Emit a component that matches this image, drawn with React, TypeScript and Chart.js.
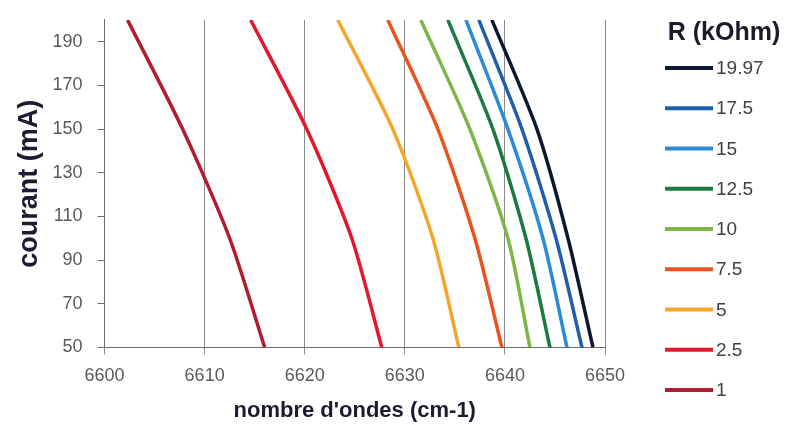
import React, { useEffect, useRef } from "react";
import { Chart, registerables } from "chart.js";

Chart.register(...registerables);

const currents = [50, 100, 150, 200];
const yTicks = [50, 70, 90, 110, 130, 150, 170, 190];
const xTicks = [6600, 6610, 6620, 6630, 6640, 6650];
const legendTitle = "R (kOhm)";

const seriesLabels = ["1", "2.5", "5", "7.5", "10", "12.5", "15", "17.5", "19.97"];
const r1 = [6616.0, 6612.5, 6607.8, 6602.3];
const r2_5 = [6627.7, 6624.7, 6620.2, 6614.6];
const r5 = [6635.4, 6632.8, 6628.8, 6623.3];
const r7_5 = [6639.7, 6637.0, 6633.3, 6628.3];
const r10 = [6642.5, 6640.3, 6636.5, 6631.6];
const r12_5 = [6644.5, 6642.1, 6638.8, 6634.3];
const r15 = [6646.2, 6643.8, 6640.3, 6636.1];
const r17_5 = [6647.7, 6645.1, 6641.7, 6637.4];
const r19_97 = [6648.8, 6646.3, 6643.2, 6638.7];
const seriesValues = [r1, r2_5, r5, r7_5, r10, r12_5, r15, r17_5, r19_97];
const seriesColors = [
  "#b31b2e",
  "#e3172d",
  "#f4a52a",
  "#e9531f",
  "#7fb446",
  "#1b7a3c",
  "#2a8ad6",
  "#1f5ead",
  "#0d1830",
];

const rightLegend = {
  id: "rightLegend",
  afterDraw(chart: any) {
    const ctx = chart.ctx as CanvasRenderingContext2D;
    const ds = chart.data.datasets;
    ctx.save();
    ctx.fillStyle = "#1a1a2a";
    ctx.font = "bold 25px 'Liberation Sans'";
    ctx.textAlign = "center";
    ctx.textBaseline = "middle";
    ctx.fillText(legendTitle, 724, 33);
    ctx.font = "19px 'Liberation Sans'";
    ctx.textAlign = "left";
    const n = ds.length;
    for (let k = 0; k < n; k++) {
      const d = ds[n - 1 - k];
      const y = 68 + k * 40.25;
      ctx.strokeStyle = d.borderColor;
      ctx.lineWidth = 4;
      ctx.beginPath();
      ctx.moveTo(665, y);
      ctx.lineTo(713, y);
      ctx.stroke();
      ctx.fillStyle = "#404040";
      ctx.fillText(d.label, 716, y + 1);
    }
    ctx.restore();
  },
};

export default function App() {
  const ref = useRef<HTMLCanvasElement | null>(null);
  useEffect(() => {
    if (!ref.current) return;
    const datasets = seriesLabels.map((label, i) => ({
      label,
      data: currents.map((c, j) => ({ x: seriesValues[i][j], y: c })),
      borderColor: seriesColors[i],
      backgroundColor: seriesColors[i],
      borderWidth: 3.5,
      pointRadius: 0,
      tension: 0.25,
      fill: false,
    }));
    const chart = new Chart(ref.current, {
      type: "line",
      data: { datasets },
      plugins: [rightLegend],
      options: {
        animation: false,
        responsive: false,
        maintainAspectRatio: false,
        layout: { padding: { top: 10, left: 9, right: 180, bottom: 0 } },
        plugins: {
          tooltip: { enabled: false },
          legend: { display: false },
        },
        scales: {
          x: {
            type: "linear",
            min: 6600,
            max: 6650,
            afterBuildTicks: (s: any) => {
              s.ticks = xTicks.map((v) => ({ value: v }));
            },
            grid: {
              display: true,
              drawOnChartArea: true,
              drawTicks: true,
              tickLength: 7,
              color: "#8a8a8a",
              lineWidth: 1,
            },
            border: { display: true, color: "#6a6a6a", width: 1 },
            ticks: {
              color: "#595959",
              padding: 11,
              font: { family: "Liberation Sans", size: 18 },
              callback: (v: any) => String(v),
            },
            title: {
              display: true,
              text: "nombre d'ondes (cm-1)",
              color: "#1c1c30",
              font: { family: "Liberation Sans", size: 22, weight: "bold", lineHeight: 1.0 },
              padding: { top: 2, bottom: 3 },
            },
          },
          y: {
            type: "linear",
            min: 50,
            max: 200,
            afterBuildTicks: (s: any) => {
              s.ticks = yTicks.map((v) => ({ value: v }));
            },
            grid: {
              display: true,
              drawOnChartArea: false,
              drawTicks: true,
              tickLength: 7,
              color: "#6a6a6a",
            },
            border: { display: true, color: "#6a6a6a", width: 1 },
            ticks: {
              color: "#595959",
              padding: 15,
              font: { family: "Liberation Sans", size: 18, lineHeight: 0.55 },
              callback: (v: any) => String(v),
            },
            title: {
              display: true,
              text: "courant (mA)",
              color: "#1c1c30",
              font: { family: "Liberation Sans", size: 27, weight: "bold", lineHeight: 1.0 },
              padding: { top: 7.5, bottom: -6 },
            },
          },
        },
      },
    });
    return () => chart.destroy();
  }, []);
  return (
    <div style={{ position: "fixed", left: 0, top: 0, width: 785, height: 425, background: "#fff" }}>
      <canvas ref={ref} width={785} height={425} style={{ width: 785, height: 425 }} />
    </div>
  );
}
